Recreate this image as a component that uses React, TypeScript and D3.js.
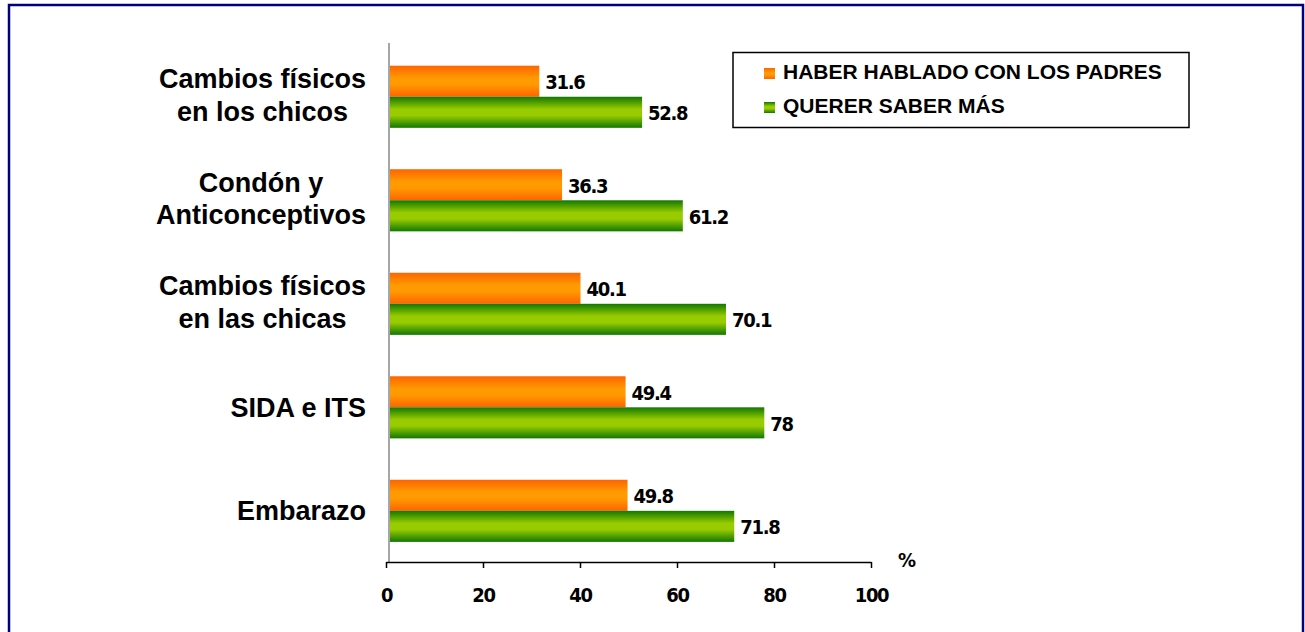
import React, { useEffect, useRef } from "react";
import * as d3 from "d3";

const categories = [
  "Cambios físicos|en los chicos",
  "Condón y|Anticonceptivos",
  "Cambios físicos|en las chicas",
  "SIDA e ITS",
  "Embarazo",
];
const seriesNames = ["HABER HABLADO CON LOS PADRES", "QUERER SABER MÁS"];
const padres = [31.6, 36.3, 40.1, 49.4, 49.8];
const saberMas = [52.8, 61.2, 70.1, 78, 71.8];
const xTicks = [0, 20, 40, 60, 80, 100];

const W = 1305, H = 632;
const numFont = "'DejaVu Sans Condensed', 'DejaVu Sans', sans-serif";
const txtFont = "'Liberation Sans', Arial, sans-serif";

const App = () => {
  const svgRef = useRef<SVGSVGElement>(null);

  useEffect(() => {
    const svg = d3.select(svgRef.current);
    svg.selectAll("*").remove();

    const defs = svg.append("defs");
    const grad = (id: string, edge: string, mid: string) => {
      const g = defs.append("linearGradient").attr("id", id)
        .attr("x1", 0).attr("y1", 0).attr("x2", 0).attr("y2", 1);
      g.append("stop").attr("offset", "0%").attr("stop-color", edge);
      g.append("stop").attr("offset", "40%").attr("stop-color", mid);
      g.append("stop").attr("offset", "60%").attr("stop-color", mid);
      g.append("stop").attr("offset", "100%").attr("stop-color", edge);
    };
    grad("gOrange", "#ff6400", "#ff9a00");
    grad("gGreen", "#127800", "#99cc00");
    const fills = ["url(#gOrange)", "url(#gGreen)"];

    // marco
    svg.append("rect")
      .attr("x", 9).attr("y", 5).attr("width", 1294).attr("height", 700)
      .attr("fill", "#fff").attr("stroke", "#000080").attr("stroke-width", 2.5);

    const x = d3.scaleLinear().domain([0, 100]).range([386, 871]);
    const y = d3.scaleBand().domain(categories).range([45, 562.6])
      .paddingInner(0.4).paddingOuter(0.2);
    const ySub = d3.scaleBand().domain(seriesNames).range([0, y.bandwidth()]);
    const barStart = x(0) + 3;

    const rows = categories.map((c, i) => ({ c, vals: [padres[i], saberMas[i]] }));

    const g = svg.append("g");
    rows.forEach((r) => {
      r.vals.forEach((v, k) => {
        const yy = (y(r.c) as number) + (ySub(seriesNames[k]) as number);
        g.append("rect")
          .attr("x", barStart).attr("y", yy)
          .attr("width", x(v) - barStart).attr("height", ySub.bandwidth())
          .attr("fill", fills[k]);
        g.append("text")
          .attr("x", x(v) + 6).attr("y", yy + ySub.bandwidth() / 2 + 8)
          .attr("font-family", numFont).attr("font-stretch", "condensed")
          .attr("font-weight", "bold").attr("font-size", 20)
          .attr("letter-spacing", -1.3)
          .attr("fill", "#000").text(String(v));
      });
    });

    // eje vertical
    svg.append("line")
      .attr("x1", barStart).attr("x2", barStart).attr("y1", 43).attr("y2", 562)
      .attr("stroke", "#a6a6a6").attr("stroke-width", 2);

    // eje x
    const xAxis = svg.append("g").attr("transform", "translate(0,562)")
      .call(d3.axisBottom(x).tickValues(xTicks).tickSize(6).tickSizeOuter(0).tickPadding(20));
    xAxis.select(".domain").attr("stroke", "#000").attr("stroke-width", 1.5);
    xAxis.selectAll(".tick line").attr("stroke", "#000").attr("stroke-width", 1.5);
    xAxis.selectAll(".tick text")
      .attr("font-family", numFont).attr("font-stretch", "condensed")
      .attr("letter-spacing", -1.3)
      .attr("font-weight", "bold").attr("font-size", 20).attr("fill", "#000");

    svg.append("text").attr("x", 898).attr("y", 567)
      .attr("font-family", numFont).attr("font-stretch", "condensed")
      .attr("font-weight", "bold").attr("font-size", 20).text("%");

    // etiquetas de categorias
    categories.forEach((c) => {
      const lines = c.split("|");
      const cy = (y(c) as number) + y.bandwidth() / 2;
      const lg = svg.append("g");
      const texts = lines.map((l, i) =>
        lg.append("text")
          .attr("font-family", txtFont)
          .attr("font-weight", "bold").attr("font-size", 27)
          .attr("text-anchor", "middle")
          .attr("y", lines.length === 1 ? cy + 9.5 : cy + 7.5 + (i === 0 ? -16.25 : 16.25))
          .text(l));
      const maxW = d3.max(texts, (t) => (t.node() as SVGTextElement).getComputedTextLength()) || 0;
      texts.forEach((t) => t.attr("x", 366 - maxW / 2));
    });

    // leyenda
    const leg = svg.append("g");
    leg.append("rect").attr("x", 733).attr("y", 52.5).attr("width", 456).attr("height", 75)
      .attr("fill", "#fff").attr("stroke", "#000").attr("stroke-width", 1.5);
    seriesNames.forEach((s, i) => {
      const by = 79 + i * 34;
      leg.append("rect").attr("x", 764).attr("y", by - 11).attr("width", 11).attr("height", 11)
        .attr("fill", fills[i]);
      leg.append("text").attr("x", 783).attr("y", by)
        .attr("font-family", txtFont)
        .attr("font-weight", "bold").attr("font-size", 21).text(s);
    });
  }, []);

  return (
    <svg ref={svgRef} width={W} height={H}
      style={{ position: "absolute", left: 0, top: 0, background: "#fff" }} />
  );
};

export default App;
